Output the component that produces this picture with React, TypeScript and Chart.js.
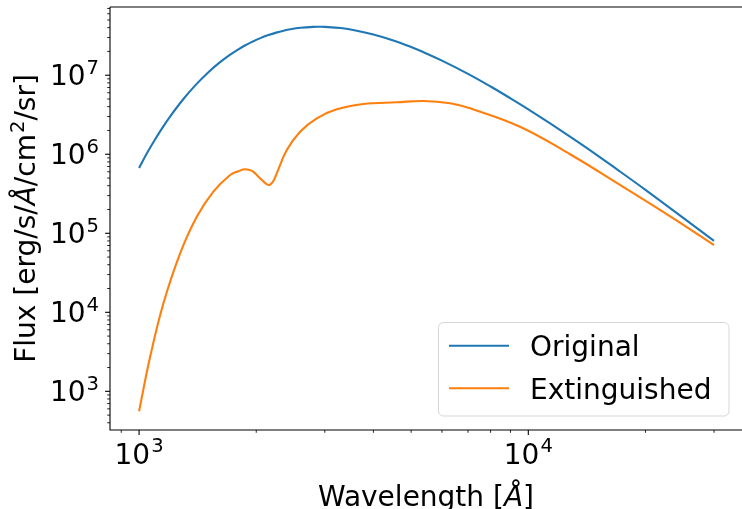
import { useEffect, useRef } from "react";
import { Chart, registerables } from "chart.js";

Chart.register(...registerables);

// ---- data ----
const ORIGINAL_WAVELENGTH = [
  1000, 1050, 1100, 1150, 1200, 1300, 1400, 1500, 1600, 1700, 1800, 1870, 1950,
  2050, 2150, 2250, 2350, 2450, 2600, 2800, 2900, 3000, 3300, 3600, 4000,
  4500, 5000, 5400, 6000, 7000, 8000, 9000, 10000, 12000, 14000, 17000, 20000,
  25000, 30000,
];
const ORIGINAL_FLUX = [
  6.7e5, 1.05e6, 1.55e6, 2.19e6, 2.98e6, 5.0e6, 7.6e6, 1.07e7, 1.41e7, 1.77e7,
  2.13e7, 2.38e7, 2.64e7, 2.95e7, 3.22e7, 3.46e7, 3.66e7, 3.82e7, 3.98e7,
  4.09e7, 4.1e7, 4.09e7, 3.95e7, 3.69e7, 3.28e7, 2.76e7, 2.28e7, 1.94e7, 1.53e7,
  1.04e7, 7.2e6, 5.1e6, 3.7e6, 2.07e6, 1.24e6, 6.3e5, 3.54e5, 1.57e5, 8.0e4,
];
const EXTINGUISHED_WAVELENGTH = [
  1000, 1068, 1155, 1275, 1407, 1552, 1714, 1800, 1873, 1950, 2006, 2080, 2150,
  2210, 2258, 2396, 2592, 2861, 3220, 3771, 4592, 5377, 6296, 7085, 9521, 12800,
  17200, 23100, 30000,
];
const EXTINGUISHED_FLUX = [
  560, 2750, 1.3e4, 5.58e4, 1.62e5, 3.36e5, 5.46e5, 6.1e5, 6.45e5, 6.15e5, 5.46e5,
  4.6e5, 4.08e5, 4.55e5, 5.74e5, 1.13e6, 1.93e6, 2.85e6, 3.7e6, 4.32e6, 4.54e6,
  4.72e6, 4.42e6, 3.81e6, 2.23e6, 1.0e6, 4.1e5, 1.65e5, 7.1e4,
];
const SERIES_LABELS = ["Original", "Extinguished"];
const SERIES_COLORS = ["#1f77b4", "#ff7f0e"];

const X_MIN = 842;
const X_MAX = 35400;
const Y_MIN = 324;
const Y_MAX = 7.3e7;
const X_MAJOR_TICKS = [1000, 10000];
const Y_MAJOR_TICKS = [1e3, 1e4, 1e5, 1e6, 1e7];

type Part = { t: string; italic?: boolean; sup?: boolean };
const X_TITLE: Part[] = [{ t: "Wavelength [" }, { t: "Å", italic: true }, { t: "]" }];
const Y_TITLE: Part[] = [
  { t: "Flux [erg/s/" },
  { t: "Å", italic: true },
  { t: "/cm" },
  { t: "2", sup: true },
  { t: "/sr]" },
];

const FAMILY = "'DejaVu Sans', sans-serif";
const FS = 28;

function fontFor(p: Part, fs: number) {
  const size = p.sup ? fs * 0.7 : fs;
  return `${p.italic ? "italic " : ""}${size}px ${FAMILY}`;
}
function measureParts(ctx: CanvasRenderingContext2D, parts: Part[], fs: number) {
  let w = 0;
  for (const p of parts) {
    ctx.font = fontFor(p, fs);
    w += ctx.measureText(p.t).width + (p.sup ? 1 : 0);
  }
  return w;
}
function drawParts(ctx: CanvasRenderingContext2D, parts: Part[], x: number, y: number, fs: number) {
  ctx.textAlign = "left";
  ctx.textBaseline = "alphabetic";
  let cx = x;
  for (const p of parts) {
    ctx.font = fontFor(p, fs);
    if (p.sup) cx += 1;
    ctx.fillText(p.t, cx, p.sup ? y - fs * 0.4 : y);
    cx += ctx.measureText(p.t).width;
  }
}
function powerLabel(v: number): Part[] {
  return [{ t: "10" }, { t: String(Math.round(Math.log10(v))), sup: true }];
}
function logTicks(min: number, max: number) {
  const out: { v: number; major: boolean }[] = [];
  for (let e = Math.floor(Math.log10(min)); e <= Math.ceil(Math.log10(max)); e++) {
    for (let m = 1; m <= 9; m++) {
      const v = m * Math.pow(10, e);
      if (v >= min && v <= max) out.push({ v, major: m === 1 });
    }
  }
  return out;
}

const axesPlugin = {
  id: "mplAxes",
  afterDraw(chart: any) {
    const ctx: CanvasRenderingContext2D = chart.ctx;
    const { left, right, top, bottom } = chart.chartArea;
    const xs = chart.scales.x;
    const ys = chart.scales.y;
    ctx.save();
    ctx.fillStyle = "#000";
    ctx.strokeStyle = "#000";
    ctx.lineWidth = 1.1;
    ctx.beginPath();
    ctx.moveTo(left, top);
    ctx.lineTo(right + 2, top);
    ctx.moveTo(left, top);
    ctx.lineTo(left, bottom);
    ctx.lineTo(right + 2, bottom);
    ctx.stroke();
    for (const t of logTicks(xs.min, xs.max)) {
      const px = xs.getPixelForValue(t.v);
      ctx.lineWidth = t.major ? 1.1 : 0.85;
      ctx.beginPath();
      ctx.moveTo(px, bottom);
      ctx.lineTo(px, bottom + (t.major ? 4.9 : 2.8));
      ctx.stroke();
    }
    for (const t of logTicks(ys.min, ys.max)) {
      const py = ys.getPixelForValue(t.v);
      ctx.lineWidth = t.major ? 1.1 : 0.85;
      ctx.beginPath();
      ctx.moveTo(left, py);
      ctx.lineTo(left - (t.major ? 4.9 : 2.8), py);
      ctx.stroke();
    }
    for (const v of X_MAJOR_TICKS) {
      const px = xs.getPixelForValue(v);
      const parts = powerLabel(v);
      const w = measureParts(ctx, parts, FS);
      drawParts(ctx, parts, px - w / 2, bottom + 33.5, FS);
    }
    for (const v of Y_MAJOR_TICKS) {
      const py = ys.getPixelForValue(v);
      const parts = powerLabel(v);
      const w = measureParts(ctx, parts, FS);
      drawParts(ctx, parts, left - 11 - w, py + 9.5, FS);
    }
    {
      const w = measureParts(ctx, X_TITLE, FS);
      drawParts(ctx, X_TITLE, (left + right) / 2 - w / 2, 505.5, FS);
    }
    {
      const w = measureParts(ctx, Y_TITLE, FS);
      ctx.save();
      ctx.translate(35, (top + bottom) / 2);
      ctx.rotate(-Math.PI / 2);
      drawParts(ctx, Y_TITLE, -w / 2, 0, FS);
      ctx.restore();
    }
    {
      const bx = 438.5, by = 322.5, bw = 290.5, bh = 93.5;
      ctx.beginPath();
      ctx.roundRect(bx, by, bw, bh, 5);
      ctx.fillStyle = "rgba(255,255,255,0.8)";
      ctx.fill();
      ctx.lineWidth = 1;
      ctx.strokeStyle = "rgba(204,204,204,0.8)";
      ctx.stroke();
      chart.data.datasets.forEach((ds: any, i: number) => {
        const ly = 345.7 + i * 42.6;
        ctx.strokeStyle = ds.borderColor;
        ctx.lineWidth = 2.1;
        ctx.beginPath();
        ctx.moveTo(449, ly);
        ctx.lineTo(509, ly);
        ctx.stroke();
        ctx.fillStyle = "#000";
        ctx.font = `${FS}px ${FAMILY}`;
        ctx.textAlign = "left";
        ctx.textBaseline = "alphabetic";
        ctx.fillText(ds.label, 530, ly + 10.6);
      });
    }
    ctx.restore();
  },
};

export default function App() {
  const ref = useRef<HTMLCanvasElement | null>(null);
  useEffect(() => {
    if (!ref.current) return;
    const series = [
      { xs: ORIGINAL_WAVELENGTH, ys: ORIGINAL_FLUX },
      { xs: EXTINGUISHED_WAVELENGTH, ys: EXTINGUISHED_FLUX },
    ];
    const chart = new Chart(ref.current, {
      type: "scatter",
      data: {
        datasets: series.map((s, i) => ({
          label: SERIES_LABELS[i],
          data: s.xs.map((w, j) => ({ x: w, y: s.ys[j] })),
          showLine: true,
          borderColor: SERIES_COLORS[i],
          backgroundColor: SERIES_COLORS[i],
          borderWidth: 2.1,
          pointRadius: 0,
          pointHoverRadius: 0,
          cubicInterpolationMode: "default",
          tension: 0.4,
        })),
      },
      options: {
        responsive: false,
        animation: false,
        devicePixelRatio: 1,
        layout: { padding: { left: 110, top: 7, right: 0, bottom: 79 } },
        plugins: { legend: { display: false }, tooltip: { enabled: false } },
        events: [],
        scales: {
          x: { type: "logarithmic", min: X_MIN, max: X_MAX, display: false },
          y: { type: "logarithmic", min: Y_MIN, max: Y_MAX, display: false },
        },
      },
      plugins: [axesPlugin],
    } as any);
    return () => chart.destroy();
  }, []);
  return (
    <div style={{ position: "absolute", left: 0, top: 0, width: 742, height: 509, background: "#fff" }}>
      <canvas ref={ref} width={742} height={509} style={{ display: "block" }} />
    </div>
  );
}
